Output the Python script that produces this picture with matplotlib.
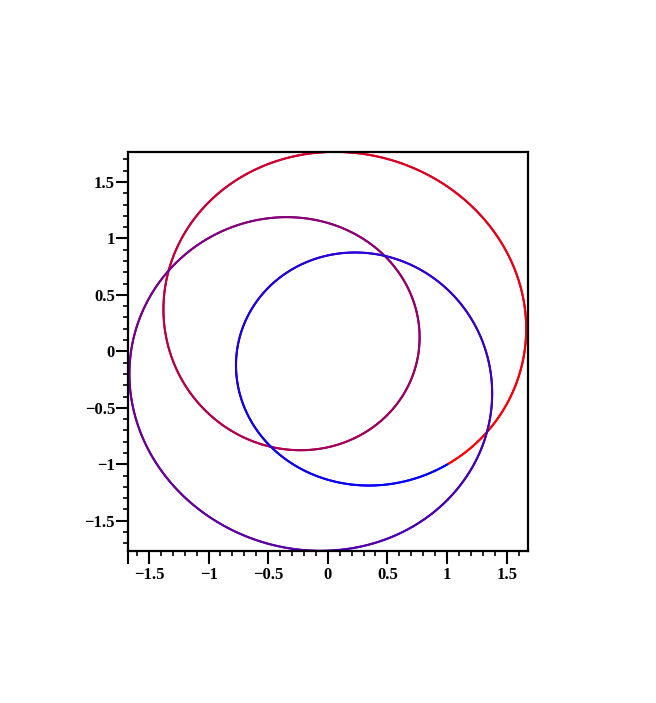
import numpy as np
import matplotlib
matplotlib.use("Agg")
import matplotlib.pyplot as plt
from matplotlib.collections import LineCollection

# ---------------- DATA ----------------
# closed parametric curve z(t) = sum c_k * exp(i k t), t in [0, 2pi]
# coefficients read off the picture (harmonic, real part, imaginary part)
harmonics = [-5, -3, -1, 1, 3, 5]
coef_re = [-0.0032, 0.0064, -0.0152, 0.6275, 0.2600, 0.1260]
coef_im = [0.0031, -0.0043, 0.0203, 0.1668, -1.2096, 0.0220]

x_range = [-1.68, 1.675]
y_range = [-1.768, 1.768]
major_ticks = [-1.5, -1.0, -0.5, 0.0, 0.5, 1.0, 1.5]
tick_labels = ["\u22121.5", "\u22121", "\u22120.5", "0", "0.5", "1", "1.5"]

start_color = (1.0, 0.0, 0.0)
end_color = (0.0, 0.0, 1.0)

# ---------------- CURVE ----------------
t = np.linspace(0, 2 * np.pi, 3000)
c = np.array(coef_re) + 1j * np.array(coef_im)
z = np.exp(1j * np.outer(t, harmonics)) @ c
pts = np.column_stack([z.real, z.imag]).reshape(-1, 1, 2)
segs = np.concatenate([pts[:-1], pts[1:]], axis=1)
f = np.linspace(0, 1, len(segs))
cols = [(start_color[0] * (1 - s) + end_color[0] * s,
         start_color[1] * (1 - s) + end_color[1] * s,
         start_color[2] * (1 - s) + end_color[2] * s) for s in f]

# ---------------- PLOT ----------------
fig = plt.figure(figsize=(6.56, 7.03), dpi=100)
ax = fig.add_axes([127.5 / 656, 1 - 551 / 703, 400 / 656, 399.3 / 703])

lc = LineCollection(segs, colors=cols, linewidths=1.5, capstyle="round")
ax.add_collection(lc)

ax.set_xlim(x_range)
ax.set_ylim(y_range)

for side in ["left", "right", "top", "bottom"]:
    ax.spines[side].set_linewidth(1.6)
    ax.spines[side].set_color("black")

font = dict(family="Liberation Serif", size=12, weight="bold")

ax.set_xticks([x_range[0]] + major_ticks)
ax.set_xticklabels([""] + tick_labels, fontdict=font)
ax.set_yticks(major_ticks)
ax.set_yticklabels(tick_labels, fontdict=font)
ax.set_xticks(np.arange(-1.6, 1.65, 0.1), minor=True)
ax.set_yticks(np.arange(-1.7, 1.75, 0.1), minor=True)

ax.tick_params(which="minor", direction="out", length=3.8, width=1.2,
               color="black")
ax.tick_params(axis="y", which="major", direction="out", length=8.5,
               width=1.5, color="black", pad=0.5)
ax.tick_params(axis="x", which="major", direction="out", length=9.5,
               width=1.5, color="black", pad=2)

fig.savefig("out.png", dpi=100)
